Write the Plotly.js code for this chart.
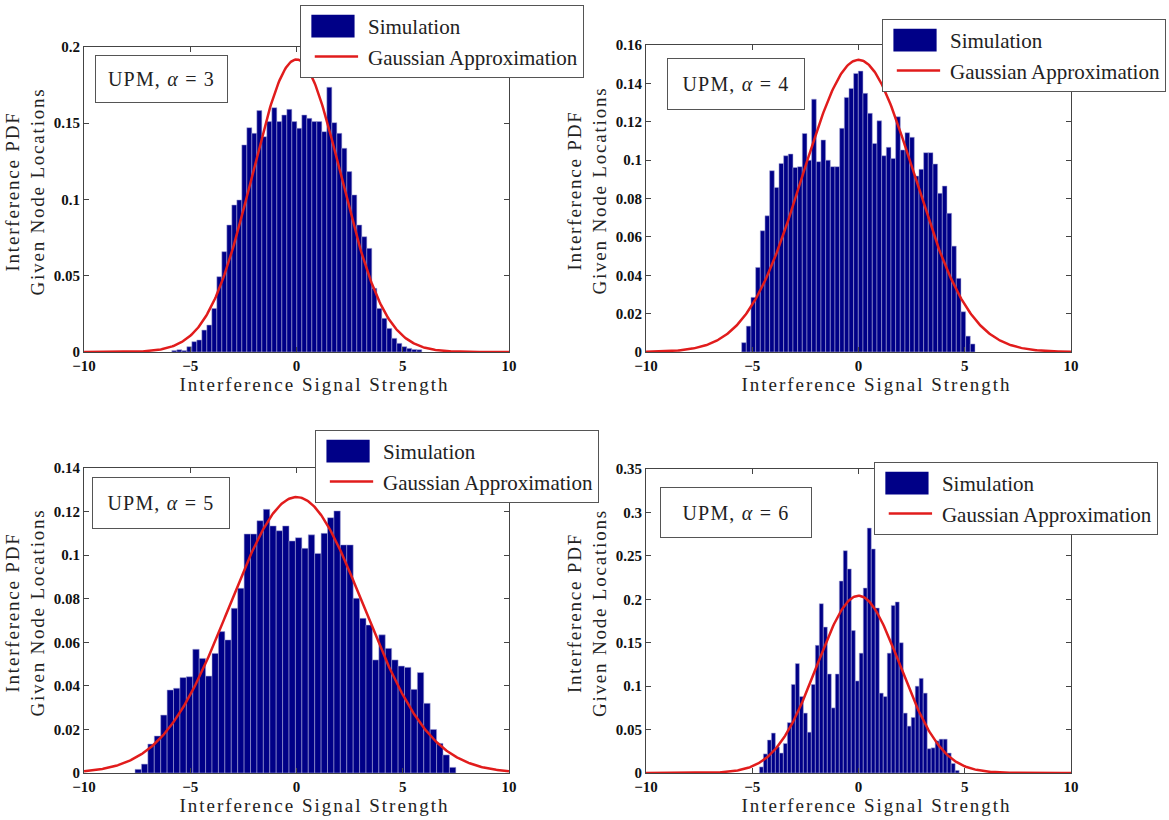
<!DOCTYPE html>
<html>
<head>
<meta charset="utf-8">
<script src="https://cdn.plot.ly/plotly-3.0.1.min.js"></script>
<style>
html,body{margin:0;padding:0;background:#fff;}
#chart text.xtitle, #chart text.x2title, #chart text.x3title, #chart text.x4title { letter-spacing: 2px; translate: 18px 0; }
#chart text.ytitle, #chart text.y2title, #chart text.y3title, #chart text.y4title { letter-spacing: 1.8px; translate: 0 -8px; }
#chart text.annotation-text { letter-spacing: 1.2px; }
#chart g.legendpoints path { transform: scale(3.6, 1.9); translate: 32px 0; stroke-width: 0 !important; }
#chart g.legendlines path { transform: scale(0.76, 1); translate: 10px 0; }
</style>
</head>
<body>
<div id="chart" style="width:1169px;height:820px;"></div>
<script>
// ---------- data ----------
const seriesNames = ['Simulation', 'Gaussian Approximation'];
const panelLabels = ['UPM, <i>α</i> = 3', 'UPM, <i>α</i> = 4', 'UPM, <i>α</i> = 5', 'UPM, <i>α</i> = 6'];
const xTitle = 'Interference Signal Strength';
const yTitle = 'Interference PDF<br>Given Node Locations';

const xTickVals = [-10, -5, 0, 5, 10];
const yTickVals1 = [0, 0.05, 0.1, 0.15, 0.2];
const yTickVals2 = [0, 0.02, 0.04, 0.06, 0.08, 0.1, 0.12, 0.14, 0.16];
const yTickVals3 = [0, 0.02, 0.04, 0.06, 0.08, 0.1, 0.12, 0.14];
const yTickVals4 = [0, 0.05, 0.1, 0.15, 0.2, 0.25, 0.3, 0.35];

// histogram bins: first bin centre and bin width for each panel
const binFirstCentre = [-5.75, -5.39, -7.45, -4.57];
const binWidth = [0.2353, 0.2196, 0.302, 0.188];

// simulated PDF heights (alpha = 3)
const pdfAlpha3 = [0.0010, 0.0015, 0.0010, 0.0035, 0.0068, 0.0079, 0.0144, 0.0177, 0.0286, 0.0494,
  0.0658, 0.0833, 0.0964, 0.0997, 0.1358, 0.1471, 0.1434, 0.1583, 0.1412, 0.1511,
  0.1602, 0.1511, 0.1554, 0.1591, 0.1511, 0.1467, 0.1554, 0.1532, 0.1511, 0.1511,
  0.1445, 0.1736, 0.1504, 0.1434, 0.1336, 0.1183, 0.1030, 0.0833, 0.0756, 0.0680,
  0.0418, 0.0286, 0.0221, 0.0155, 0.0090, 0.0057, 0.0035, 0.0024, 0.0017, 0.0015];
// alpha = 4
const pdfAlpha4 = [0.0049, 0.0135, 0.0285, 0.0441, 0.0632, 0.0710, 0.0945, 0.0858, 0.0983, 0.1023,
  0.1032, 0.0962, 0.0966, 0.1139, 0.1000, 0.1318, 0.0992, 0.1105, 0.1000, 0.0966,
  0.0966, 0.1166, 0.1327, 0.1374, 0.1452, 0.1464, 0.1348, 0.1244, 0.1087, 0.1205,
  0.1023, 0.1067, 0.1009, 0.1226, 0.1053, 0.1143, 0.1119, 0.0917, 0.0952, 0.1039,
  0.1039, 0.0980, 0.0827, 0.0865, 0.0723, 0.0552, 0.0384, 0.0210, 0.0083, 0.0042];
// alpha = 5
const pdfAlpha5 = [0.0017, 0.0041, 0.0133, 0.0170, 0.0266, 0.0381, 0.0389, 0.0438, 0.0442, 0.0568,
  0.0526, 0.0445, 0.0549, 0.0649, 0.0611, 0.0756, 0.0848, 0.1097, 0.1097, 0.1158,
  0.1210, 0.1134, 0.1112, 0.1134, 0.1065, 0.1080, 0.1031, 0.1093, 0.1008, 0.1100,
  0.1172, 0.1203, 0.1047, 0.1047, 0.0802, 0.0710, 0.0679, 0.0519, 0.0634, 0.0572,
  0.0519, 0.0491, 0.0485, 0.0384, 0.0461, 0.0320, 0.0200, 0.0136, 0.0083, 0.0026];
// alpha = 6
const pdfAlpha6 = [0.007, 0.022, 0.038, 0.046, 0.030, 0.023, 0.034, 0.058, 0.102, 0.126,
  0.088, 0.069, 0.047, 0.102, 0.147, 0.195, 0.168, 0.114, 0.075, 0.114,
  0.221, 0.256, 0.235, 0.164, 0.106, 0.138, 0.213, 0.282, 0.258, 0.190,
  0.092, 0.088, 0.138, 0.193, 0.197, 0.150, 0.069, 0.054, 0.064, 0.100,
  0.109, 0.092, 0.028, 0.029, 0.037, 0.039, 0.039, 0.023, 0.011, 0.003];

// Gaussian approximation parameters (mean, standard deviation) per panel
const gaussMean = [0, 0, 0, 0];
const gaussStd = [2.08, 2.62, 3.15, 1.955];

// ---------- build ----------
const pdfs = [pdfAlpha3, pdfAlpha4, pdfAlpha5, pdfAlpha6];
const yTicks = [yTickVals1, yTickVals2, yTickVals3, yTickVals4];
const yRanges = [[0, 0.2], [0, 0.16], [0, 0.14], [0, 0.35]];

const xDomains = [[0.0719, 0.4354], [0.5526, 0.9162], [0.0719, 0.4354], [0.5526, 0.9162]];
const yDomains = [[0.5707, 0.9427], [0.5707, 0.9451], [0.0573, 0.4293], [0.0573, 0.4280]];
const legendPos = [[0.2566, 0.9939], [0.7545, 0.9768], [0.2695, 0.4756], [0.7476, 0.4366]];
const labelPos = [[0.1382, 0.9037], [0.6296, 0.8976], [0.1377, 0.3860], [0.6296, 0.3750]];
const labelSize = [[125, 40], [130, 44], [130, 44], [144, 43]];

const serif = 'Liberation Serif, serif';
const barColor = 'rgb(0,0,135)';
const lineColor = 'rgb(225,28,28)';
const axisColor = '#444';

const curveX = [];
for (let v = -10; v <= 10.0001; v += 0.05) curveX.push(+v.toFixed(3));

const traces = [];
const layout = {
  width: 1169, height: 820,
  margin: {l: 0, r: 0, t: 0, b: 0},
  paper_bgcolor: '#fff', plot_bgcolor: '#fff',
  showlegend: true,
  barmode: 'overlay',
  annotations: []
};

for (let p = 0; p < 4; p++) {
  const sfx = p === 0 ? '' : String(p + 1);
  const xa = 'x' + sfx, ya = 'y' + sfx;
  const leg = 'legend' + sfx;
  const centres = pdfs[p].map((_, i) => binFirstCentre[p] + i * binWidth[p]);
  traces.push({
    type: 'bar', name: seriesNames[0], x: centres, y: pdfs[p],
    width: binWidth[p], xaxis: xa, yaxis: ya, legend: leg, legendgroup: 'sim' + p,
    marker: {color: barColor, line: {color: 'rgba(170,170,215,0.9)', width: 0.6}},
    hoverinfo: 'x+y'
  });
  const mu = gaussMean[p], sd = gaussStd[p];
  const curveY = curveX.map(v => Math.exp(-0.5 * ((v - mu) / sd) ** 2) / (sd * Math.sqrt(2 * Math.PI)));
  traces.push({
    type: 'scatter', mode: 'lines', name: seriesNames[1], x: curveX, y: curveY,
    xaxis: xa, yaxis: ya, legend: leg, legendgroup: 'gauss' + p,
    line: {color: lineColor, width: 2.5}
  });

  const common = {
    showline: true, linecolor: axisColor, linewidth: 1, mirror: 'ticks',
    ticks: 'inside', ticklen: 5, tickwidth: 1, tickcolor: axisColor,
    showgrid: false, zeroline: false,
    tickfont: {family: serif, size: 15, color: '#111', weight: 'bold'}
  };
  layout['xaxis' + sfx] = Object.assign({}, common, {
    domain: xDomains[p], range: [-10, 10], anchor: ya, tickvals: xTickVals,
    title: {text: xTitle, standoff: 2, font: {family: serif, size: 19, color: '#222'}}
  });
  layout['yaxis' + sfx] = Object.assign({}, common, {
    domain: yDomains[p], range: yRanges[p], anchor: xa, tickvals: yTicks[p],
    title: {text: yTitle, standoff: 4, font: {family: serif, size: 19, color: '#222'}}
  });
  layout[leg] = {
    x: legendPos[p][0], y: legendPos[p][1], xref: 'paper', yref: 'paper',
    xanchor: 'left', yanchor: 'top',
    bgcolor: '#fff', bordercolor: '#555', borderwidth: 1,
    font: {family: serif, size: 21, color: '#222'},
    itemwidth: 57, tracegroupgap: 7, traceorder: 'normal'
  };
  layout.annotations.push({
    xref: 'paper', yref: 'paper', x: labelPos[p][0], y: labelPos[p][1],
    xanchor: 'center', yanchor: 'middle', showarrow: false,
    text: panelLabels[p], width: labelSize[p][0], height: labelSize[p][1],
    bgcolor: '#fff', bordercolor: '#555', borderwidth: 1, borderpad: 3,
    font: {family: serif, size: 20, color: '#222'}
  });
}

Plotly.newPlot('chart', traces, layout, {displayModeBar: false});
</script>
</body>
</html>
